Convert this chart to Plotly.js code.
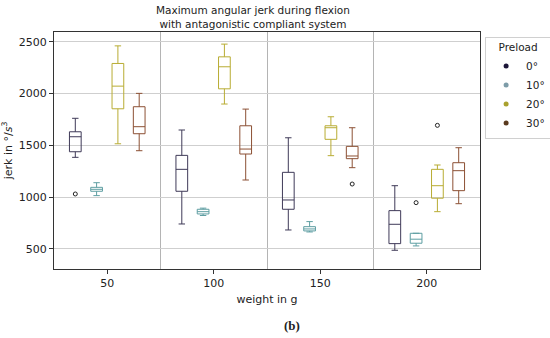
<!DOCTYPE html>
<html>
<head>
<meta charset="utf-8">
<script src="https://cdn.plot.ly/plotly-3.0.1.min.js"></script>
<style>html,body{margin:0;padding:0;background:#fff;}#chart{width:550px;height:338px;}</style>
</head>
<body>
<div id="chart"></div>
<script>
// Categories
const weights = [50, 100, 150, 200];
const preloads = ['0°', '10°', '20°', '30°'];

// Box statistics per preload (one value per weight)
const lower_0 = [1384, 740, 682, 486];
const q1_0 = [1438, 1056, 882, 550];
const median_0 = [1583, 1268, 972, 737];
const q3_0 = [1631, 1403, 1239, 869];
const upper_0 = [1761, 1648, 1573, 1110];

const lower_10 = [1014, 822, 663, 528];
const q1_10 = [1056, 837, 673, 554];
const median_10 = [1075, 859, 692, 593];
const q3_10 = [1094, 882, 714, 650];
const upper_10 = [1139, 893, 763, 650];

const lower_20 = [1515, 1899, 1400, 859];
const q1_20 = [1853, 2046, 1558, 989];
const median_20 = [2072, 2259, 1670, 1110];
const q3_20 = [2291, 2355, 1689, 1268];
const upper_20 = [2461, 2478, 1776, 1310];

const lower_30 = [1448, 1165, 1284, 936];
const q1_30 = [1612, 1416, 1371, 1062];
const median_30 = [1680, 1464, 1397, 1255];
const q3_30 = [1873, 1689, 1490, 1332];
const upper_30 = [2002, 1850, 1670, 1477];

// Outliers: preload index, weight, value
const outlier_preload = [0, 1, 2, 3];
const outlier_weight = [50, 200, 200, 150];
const outlier_value = [1030, 946, 1693, 1126];

const boxColors = ['#3f3a58', '#5e9ea2', '#b8ac33', '#8c5034'];
const legendColors = ['#1c1638', '#7d9ca8', '#a9a12e', '#5a3a1e'];

const stats = [
  [lower_0, q1_0, median_0, q3_0, upper_0],
  [lower_10, q1_10, median_10, q3_10, upper_10],
  [lower_20, q1_20, median_20, q3_20, upper_20],
  [lower_30, q1_30, median_30, q3_30, upper_30]
];

const boxgap = 0.2, boxgroupgap = 0.45;
const groupSpacing = weights[1] - weights[0];
const slot = groupSpacing * (1 - boxgap) / preloads.length;

const traces = [];
stats.forEach((s, i) => {
  traces.push({
    type: 'box',
    x: weights,
    lowerfence: s[0], q1: s[1], median: s[2], q3: s[3], upperfence: s[4],
    name: preloads[i],
    showlegend: false,
    fillcolor: 'rgba(255,255,255,0)',
    line: {color: boxColors[i], width: 1},
    whiskerwidth: 0.55,
    hoverinfo: 'skip'
  });
});

// Outliers
const ox = outlier_weight.map((w, k) => w + (outlier_preload[k] - (preloads.length - 1) / 2) * slot);
traces.push({
  type: 'scatter', mode: 'markers',
  x: ox, y: outlier_value, showlegend: false,
  marker: {symbol: 'circle-open', size: 4, color: '#222', line: {width: 1}},
  hoverinfo: 'skip'
});

// Legend entries
preloads.forEach((p, i) => {
  traces.push({
    type: 'scatter', mode: 'markers', x: [null], y: [null], name: p,
    marker: {color: legendColors[i], size: 5}, showlegend: true
  });
});

const font = 'DejaVu Sans, sans-serif';
const layout = {
  width: 550, height: 338,
  margin: {l: 54, r: 70, t: 32, b: 69, autoexpand: false},
  paper_bgcolor: '#fff', plot_bgcolor: '#fff',
  font: {family: font, size: 11, color: '#222'},
  boxmode: 'group', boxgap: boxgap, boxgroupgap: boxgroupgap,
  xaxis: {
    range: [25, 225],
    tickvals: weights, ticktext: weights.map(String),
    ticks: 'outside', ticklen: 4, tickcolor: '#333',
    showgrid: false, zeroline: false,
    showline: true, mirror: true, linecolor: '#333', linewidth: 1,
    tickfont: {family: font, size: 11, color: '#222'},
    title: {text: 'weight in g', font: {family: font, size: 11, color: '#222'}, standoff: 6},
    minor: {tickvals: [75, 125, 175], showgrid: true, gridcolor: '#b4b4b4', gridwidth: 1, ticks: ''}
  },
  yaxis: {
    range: [305, 2595],
    tickvals: [500, 1000, 1500, 2000, 2500],
    ticks: 'outside', ticklen: 4, tickcolor: '#333',
    showgrid: true, gridcolor: '#cfcfcf', gridwidth: 1, zeroline: false,
    showline: true, mirror: true, linecolor: '#333', linewidth: 1,
    tickfont: {family: font, size: 11, color: '#222'},
    title: {text: 'jerk in °/<i>s</i><sup>3</sup>', font: {family: font, size: 11, color: '#222'}, standoff: 8}
  },
  legend: {
    x: 1.012, xanchor: 'left', y: 0.98, yanchor: 'top',
    bgcolor: '#fff', bordercolor: '#d0d0d0', borderwidth: 1,
    font: {family: font, size: 10.5, color: '#222'},
    title: {text: 'Preload', font: {family: font, size: 10.5, color: '#222'}, side: 'top center'},
    itemwidth: 30,
    tracegroupgap: 0
  },
  annotations: [
    {
      text: 'Maximum angular jerk during flexion<br>with antagonistic compliant system',
      xref: 'paper', yref: 'paper', x: 0.467, y: 1.125,
      xanchor: 'center', yanchor: 'top', showarrow: false, align: 'center',
      font: {family: font, size: 10.5, color: '#222'}
    },
    {
      text: '<b>(b)</b>', xref: 'paper', yref: 'paper', x: 0.559, y: -0.24,
      xanchor: 'center', yanchor: 'middle', showarrow: false,
      font: {family: 'Liberation Serif, DejaVu Serif, serif', size: 13, color: '#222'}
    }
  ]
};

Plotly.newPlot('chart', traces, layout, {displayModeBar: false, staticPlot: true});
</script>
</body>
</html>
